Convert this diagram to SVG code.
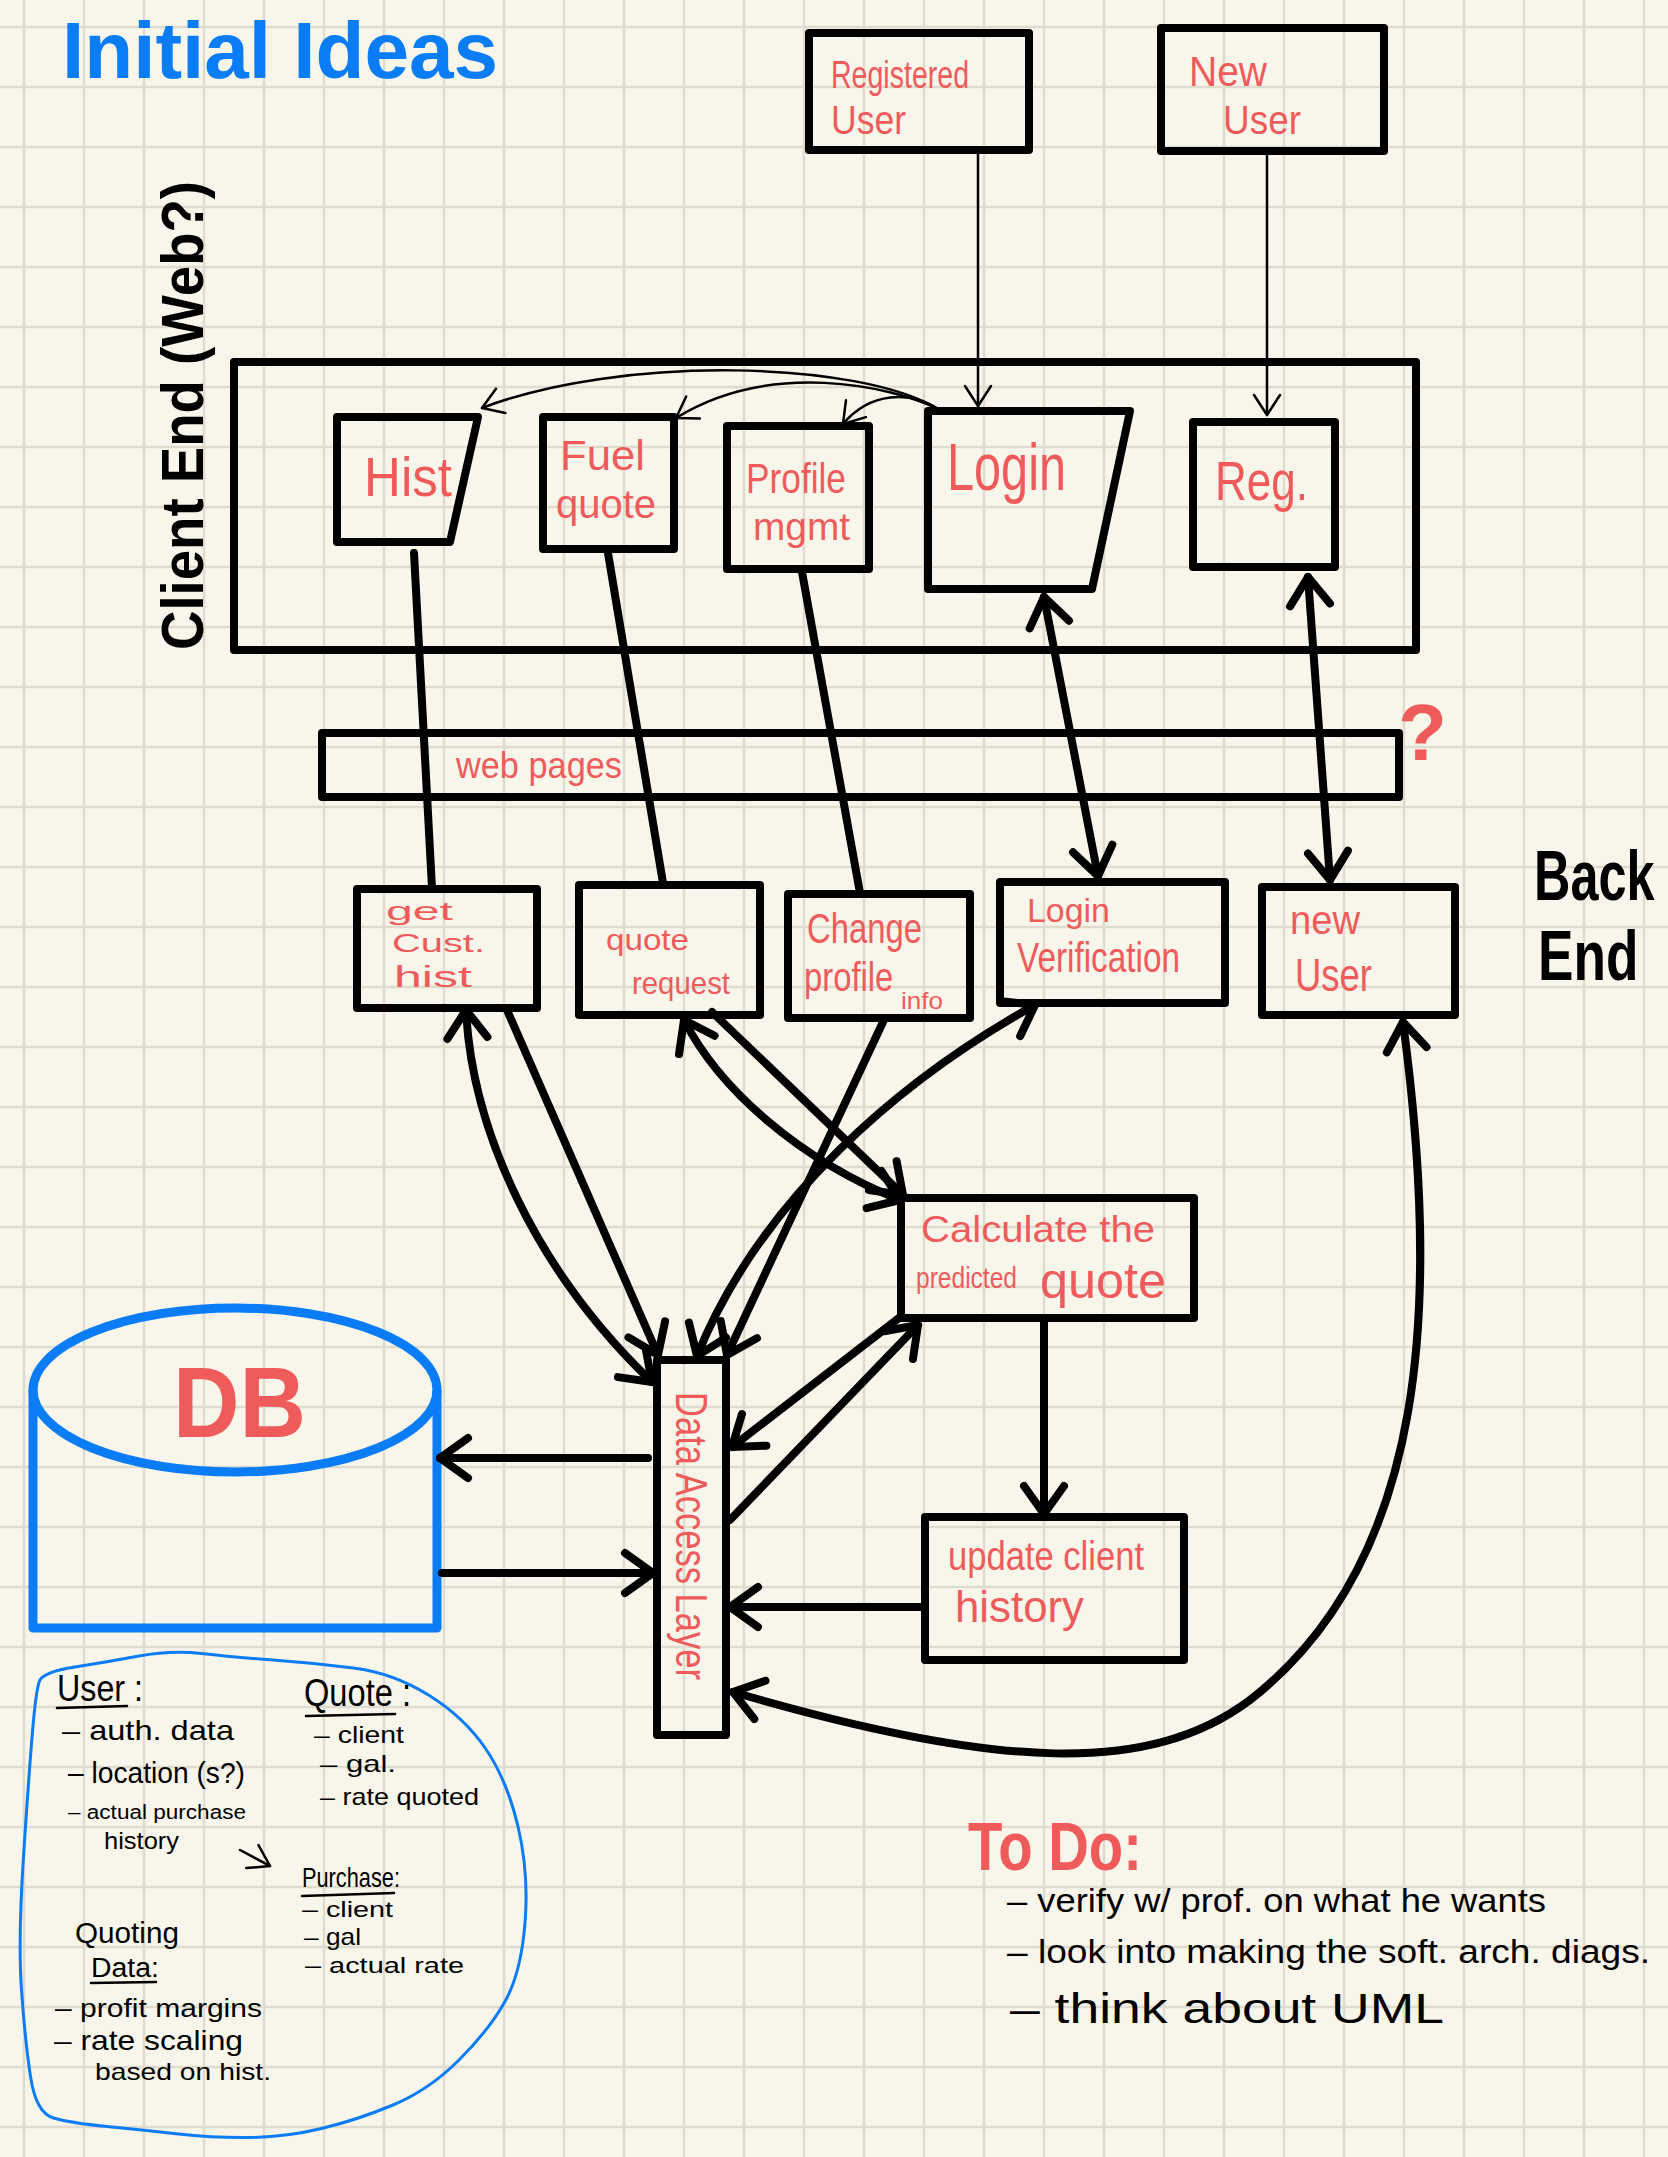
<svg xmlns="http://www.w3.org/2000/svg" width="1668" height="2157" viewBox="0 0 1668 2157">
<defs>
<pattern id="grid" x="-6" y="-3" width="60" height="60" patternUnits="userSpaceOnUse">
<path d="M 30 0 V 60 M 0 30 H 60" stroke="#dfdbcf" stroke-width="2.5" fill="none"/>
</pattern>
<marker id="ah" markerUnits="userSpaceOnUse" viewBox="-40 -30 50 60" markerWidth="50" markerHeight="60" refX="0" refY="0" orient="auto-start-reverse" overflow="visible">
<path d="M -28 -20 L 0 0 L -28 20" fill="none" stroke="#000" stroke-width="8" stroke-linecap="round" stroke-linejoin="round"/>
</marker>
<marker id="ahs" markerUnits="userSpaceOnUse" viewBox="-30 -20 40 40" markerWidth="40" markerHeight="40" refX="0" refY="0" orient="auto-start-reverse" overflow="visible">
<path d="M -20 -13 L 0 0 L -20 13" fill="none" stroke="#000" stroke-width="2.5" stroke-linecap="round" stroke-linejoin="round"/>
</marker>
</defs>
<style>
.box{fill:none;stroke:#000;stroke-width:8;stroke-linejoin:round}
.lbl{fill:#ef5b5b;font-family:'Liberation Sans',Arial,sans-serif}
.ink{fill:#000;font-family:'Liberation Sans',Arial,sans-serif}
.thick{fill:none;stroke:#000;stroke-width:8;stroke-linecap:round}
.thin{fill:none;stroke:#000;stroke-width:2.5;stroke-linecap:round}
.blue{fill:none;stroke:#0a7cf5;stroke-linejoin:round}
.ul{stroke:#000;stroke-width:2.5;fill:none;stroke-linecap:round}
</style>
<rect width="1668" height="2157" fill="#f8f6eb"/>
<rect width="1668" height="2157" fill="url(#grid)"/>

<g id="title">
<text x="62" y="78" font-size="80" font-weight="bold" fill="#0a7cf5" font-family="'Liberation Sans',Arial,sans-serif" textLength="436" lengthAdjust="spacingAndGlyphs">Initial Ideas</text>
</g>
<g id="client-end-label">
<text class="ink" transform="translate(203,650) rotate(-90)" font-size="60" font-weight="bold" textLength="469" lengthAdjust="spacingAndGlyphs">Client  End (Web?)</text>
</g>
<g id="back-end-label">
<text class="ink" transform="translate(1534,900) scale(0.72,1)" font-size="70" font-weight="bold">Back</text>
<text class="ink" transform="translate(1538,980) scale(0.76,1)" font-size="70" font-weight="bold">End</text>
</g>

<g id="registered-user">
<rect class="box" x="809" y="33" width="220" height="117"/>
<text class="lbl" x="831" y="88" font-size="38" textLength="138" lengthAdjust="spacingAndGlyphs">Registered</text>
<text class="lbl" x="831" y="134" font-size="40" textLength="75" lengthAdjust="spacingAndGlyphs">User</text>
</g>
<g id="new-user-top">
<rect class="box" x="1161" y="28" width="223" height="123"/>
<text class="lbl" x="1189" y="86" font-size="42" textLength="78" lengthAdjust="spacingAndGlyphs">New</text>
<text class="lbl" x="1223" y="134" font-size="40" textLength="78" lengthAdjust="spacingAndGlyphs">User</text>
</g>

<g id="client-end">
<rect class="box" x="234" y="362" width="1182" height="288"/>
</g>
<g id="hist">
<polygon class="box" points="337,417 478,417 450,542 337,542"/>
<text class="lbl" x="364" y="496" font-size="56" textLength="88" lengthAdjust="spacingAndGlyphs">Hist</text>
</g>
<g id="fuel-quote">
<rect class="box" x="543" y="417" width="131" height="132"/>
<text class="lbl" x="560" y="470" font-size="42" textLength="85" lengthAdjust="spacingAndGlyphs">Fuel</text>
<text class="lbl" x="556" y="518" font-size="40" textLength="100" lengthAdjust="spacingAndGlyphs">quote</text>
</g>
<g id="profile-mgmt">
<rect class="box" x="727" y="426" width="142" height="143"/>
<text class="lbl" x="746" y="493" font-size="42" textLength="100" lengthAdjust="spacingAndGlyphs">Profile</text>
<text class="lbl" x="753" y="540" font-size="38" textLength="97" lengthAdjust="spacingAndGlyphs">mgmt</text>
</g>
<g id="login">
<polygon class="box" points="928,411 1130,411 1092,589 928,589"/>
<text class="lbl" x="947" y="490" font-size="66" textLength="119" lengthAdjust="spacingAndGlyphs">Login</text>
</g>
<g id="reg">
<rect class="box" x="1193" y="422" width="142" height="145"/>
<text class="lbl" x="1215" y="500" font-size="56" textLength="93" lengthAdjust="spacingAndGlyphs">Reg.</text>
</g>

<g id="web-pages">
<rect class="box" x="322" y="733" width="1077" height="64"/>
<text class="lbl" x="456" y="778" font-size="36" textLength="166" lengthAdjust="spacingAndGlyphs">web pages</text>
</g>
<g id="question">
<text class="lbl" x="1398" y="760" font-size="80" font-weight="bold">?</text>
</g>

<g id="get-cust-hist">
<rect class="box" x="357" y="889" width="180" height="119"/>
<text class="lbl" x="386" y="920" font-size="26" textLength="67" lengthAdjust="spacingAndGlyphs">get</text>
<text class="lbl" x="392" y="952" font-size="26" textLength="93" lengthAdjust="spacingAndGlyphs">Cust.</text>
<text class="lbl" x="394" y="987" font-size="30" textLength="78" lengthAdjust="spacingAndGlyphs">hist</text>
</g>
<g id="quote-request">
<rect class="box" x="579" y="885" width="181" height="130"/>
<text class="lbl" x="606" y="950" font-size="30" textLength="83" lengthAdjust="spacingAndGlyphs">quote</text>
<text class="lbl" x="632" y="994" font-size="32" textLength="98" lengthAdjust="spacingAndGlyphs">request</text>
</g>
<g id="change-profile-info">
<rect class="box" x="788" y="894" width="182" height="124"/>
<text class="lbl" x="807" y="943" font-size="42" textLength="115" lengthAdjust="spacingAndGlyphs">Change</text>
<text class="lbl" transform="translate(804,991) scale(0.82,1)" font-size="40">profile</text>
<text class="lbl" x="901" y="1009" font-size="24" textLength="42" lengthAdjust="spacingAndGlyphs">info</text>
</g>
<g id="login-verification">
<rect class="box" x="1000" y="882" width="225" height="121"/>
<text class="lbl" x="1027" y="922" font-size="34" textLength="83" lengthAdjust="spacingAndGlyphs">Login</text>
<text class="lbl" x="1017" y="972" font-size="42" textLength="163" lengthAdjust="spacingAndGlyphs">Verification</text>
</g>
<g id="new-user">
<rect class="box" x="1262" y="887" width="193" height="128"/>
<text class="lbl" x="1290" y="934" font-size="40" textLength="70" lengthAdjust="spacingAndGlyphs">new</text>
<text class="lbl" x="1295" y="991" font-size="46" textLength="77" lengthAdjust="spacingAndGlyphs">User</text>
</g>

<g id="calculate">
<rect class="box" x="901" y="1198" width="293" height="120"/>
<text class="lbl" x="921" y="1242" font-size="36" textLength="234" lengthAdjust="spacingAndGlyphs">Calculate the</text>
<text class="lbl" x="916" y="1288" font-size="30" textLength="101" lengthAdjust="spacingAndGlyphs">predicted</text>
<text class="lbl" x="1040" y="1298" font-size="50" textLength="126" lengthAdjust="spacingAndGlyphs">quote</text>
</g>
<g id="update-client-history">
<rect class="box" x="925" y="1517" width="259" height="143"/>
<text class="lbl" x="948" y="1570" font-size="40" textLength="196" lengthAdjust="spacingAndGlyphs">update client</text>
<text class="lbl" x="955" y="1622" font-size="44" textLength="129" lengthAdjust="spacingAndGlyphs">history</text>
</g>
<g id="data-access-layer">
<rect class="box" x="657" y="1360" width="69" height="375"/>
<text class="lbl" transform="translate(676,1536) rotate(90)" text-anchor="middle" font-size="44" textLength="288" lengthAdjust="spacingAndGlyphs">Data Access Layer</text>
</g>
<g id="db">
<path class="blue" stroke-width="9" d="M 33 1390 L 33 1628 L 437 1628 L 437 1390"/>
<ellipse class="blue" stroke-width="9" cx="235" cy="1390" rx="202" ry="82"/>
<text class="lbl" x="173" y="1437" font-size="100" font-weight="bold" textLength="133" lengthAdjust="spacingAndGlyphs">DB</text>
</g>

<g id="data-notes">
<path class="blue" stroke-width="3" d="M 39.5 1681 Q 43 1672 75 1667 Q 107 1662 139 1656 Q 171 1650 201.5 1653.5 Q 232 1657 273 1660 Q 314 1663 353.5 1668 Q 393 1673 428.5 1695 Q 464 1717 485.5 1748.5 Q 507 1780 518 1826.5 Q 529 1873 525 1923 Q 521 1973 505 2001.5 Q 489 2030 459 2060 Q 429 2090 393 2105 Q 357 2120 321.5 2128.5 Q 286 2137 250 2137.5 Q 214 2138 178.5 2134 Q 143 2130 107 2126.5 Q 71 2123 53.5 2118 Q 36 2113 30.5 2076.5 Q 25 2040 21.5 1990 Q 18 1940 23.5 1856.5 Q 29 1773 32.5 1731.5 Q 36 1690 39.5 1681 Z"/>
<text class="ink" x="57" y="1701" font-size="36" textLength="86" lengthAdjust="spacingAndGlyphs">User :</text>
<path class="ul" d="M 57 1708 L 127 1706"/>
<text class="ink" x="62" y="1740" font-size="28" textLength="172" lengthAdjust="spacingAndGlyphs">– auth. data</text>
<text class="ink" x="68" y="1783" font-size="30" textLength="177" lengthAdjust="spacingAndGlyphs">– location (s?)</text>
<text class="ink" x="68" y="1819" font-size="20" textLength="178" lengthAdjust="spacingAndGlyphs">– actual purchase</text>
<text class="ink" x="104" y="1849" font-size="24" textLength="75" lengthAdjust="spacingAndGlyphs">history</text>
<path class="thin" d="M 240 1850 L 270 1866" marker-end="url(#ahs)"/>
<text class="ink" x="304" y="1706" font-size="38" textLength="107" lengthAdjust="spacingAndGlyphs">Quote :</text>
<path class="ul" d="M 306 1716 L 395 1714"/>
<text class="ink" x="314" y="1743" font-size="24" textLength="90" lengthAdjust="spacingAndGlyphs">– client</text>
<text class="ink" x="320" y="1772" font-size="24" textLength="76" lengthAdjust="spacingAndGlyphs">– gal.</text>
<text class="ink" x="320" y="1805" font-size="24" textLength="159" lengthAdjust="spacingAndGlyphs">– rate quoted</text>
<text class="ink" x="302" y="1887" font-size="28" textLength="98" lengthAdjust="spacingAndGlyphs">Purchase:</text>
<path class="ul" d="M 302 1896 L 394 1893"/>
<text class="ink" x="302" y="1917" font-size="22" textLength="91" lengthAdjust="spacingAndGlyphs">– client</text>
<text class="ink" x="304" y="1945" font-size="24" textLength="57" lengthAdjust="spacingAndGlyphs">– gal</text>
<text class="ink" x="305" y="1973" font-size="22" textLength="159" lengthAdjust="spacingAndGlyphs">– actual rate</text>
<text class="ink" x="75" y="1943" font-size="30" textLength="104" lengthAdjust="spacingAndGlyphs">Quoting</text>
<text class="ink" x="91" y="1977" font-size="27" textLength="68" lengthAdjust="spacingAndGlyphs">Data:</text>
<path class="ul" d="M 91 1983 L 156 1982"/>
<text class="ink" x="55" y="2017" font-size="26" textLength="207" lengthAdjust="spacingAndGlyphs">– profit margins</text>
<text class="ink" x="54" y="2050" font-size="28" textLength="189" lengthAdjust="spacingAndGlyphs">– rate scaling</text>
<text class="ink" x="95" y="2080" font-size="24" textLength="176" lengthAdjust="spacingAndGlyphs">based on hist.</text>
</g>

<g id="todo">
<text class="lbl" x="968" y="1870" font-size="68" font-weight="bold" textLength="174" lengthAdjust="spacingAndGlyphs">To Do:</text>
<text class="ink" x="1007" y="1912" font-size="34" textLength="539" lengthAdjust="spacingAndGlyphs">– verify w/ prof. on what he wants</text>
<text class="ink" x="1007" y="1963" font-size="34" textLength="643" lengthAdjust="spacingAndGlyphs">– look into making the soft. arch. diags.</text>
<text class="ink" x="1010" y="2023" font-size="42" textLength="434" lengthAdjust="spacingAndGlyphs">– think about UML</text>
</g>

<g id="connectors">
<path class="thin" d="M 978 152 L 978 406" marker-end="url(#ahs)"/>
<path class="thin" d="M 1267 153 L 1267 415" marker-end="url(#ahs)"/>
<path class="thin" d="M 940 410 C 860 360, 620 355, 482 408" marker-end="url(#ahs)"/>
<path class="thin" d="M 940 410 C 890 385, 770 360, 676 418" marker-end="url(#ahs)"/>
<path class="thin" d="M 940 410 C 910 390, 870 392, 843 424" marker-end="url(#ahs)"/>

<path class="thick" d="M 414 553 L 432 888"/>
<path class="thick" d="M 608 553 L 663 883"/>
<path class="thick" d="M 802 572 L 860 893"/>
<path class="thick" d="M 1044 597 L 1098 876" marker-start="url(#ah)" marker-end="url(#ah)"/>
<path class="thick" d="M 1308 577 L 1330 880" marker-start="url(#ah)" marker-end="url(#ah)"/>

<path class="thick" d="M 466 1010 C 472 1130, 535 1270, 652 1382" marker-start="url(#ah)" marker-end="url(#ah)"/>
<path class="thick" d="M 507 1010 L 658 1355" marker-end="url(#ah)"/>
<path class="thick" d="M 684 1020 C 720 1090, 800 1160, 900 1200" marker-start="url(#ah)" marker-end="url(#ah)"/>
<path class="thick" d="M 712 1012 L 903 1195" marker-end="url(#ah)"/>
<path class="thick" d="M 883 1022 L 727 1355" marker-end="url(#ah)"/>
<path class="thick" d="M 1035 1005 C 900 1080, 760 1200, 697 1356" marker-start="url(#ah)" marker-end="url(#ah)"/>
<path class="thick" d="M 899 1318 L 732 1447" marker-end="url(#ah)"/>
<path class="thick" d="M 730 1520 L 918 1325" marker-end="url(#ah)"/>
<path class="thick" d="M 1044 1322 L 1044 1514" marker-end="url(#ah)"/>
<path class="thick" d="M 922 1607 L 730 1607" marker-end="url(#ah)"/>
<path class="thick" d="M 648 1458 L 440 1458" marker-end="url(#ah)"/>
<path class="thick" d="M 442 1573 L 653 1573" marker-end="url(#ah)"/>
<path class="thick" d="M 1403 1022 C 1440 1300, 1430 1560, 1250 1700 C 1150 1775, 1000 1770, 733 1692" marker-start="url(#ah)" marker-end="url(#ah)"/>
</g>
</svg>
